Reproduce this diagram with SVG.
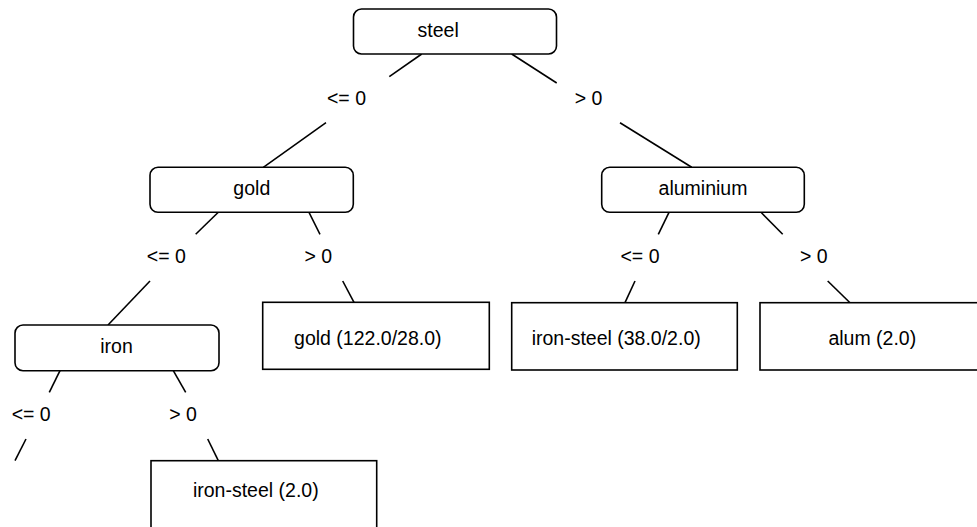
<svg xmlns="http://www.w3.org/2000/svg" width="977" height="527" viewBox="0 0 977 527">
<style>
.n{fill:#fff;stroke:#000;stroke-width:1.6}
.e{stroke:#000;stroke-width:1.6;fill:none}
text{font-family:"Liberation Sans",Arial,sans-serif;font-size:19.5px;fill:#000;text-anchor:middle}
</style>
<rect width="977" height="527" fill="#fff"/>
<g id="connectors">
<line class="e" x1="421.7" y1="54" x2="389.3" y2="76.7"/>
<line class="e" x1="326" y1="122.7" x2="263.3" y2="167.3"/>
<text x="346.5" y="105">&lt;= 0</text>
<line class="e" x1="511.7" y1="54" x2="556.7" y2="83"/>
<line class="e" x1="620" y1="122.7" x2="691.7" y2="167.3"/>
<text x="588.5" y="105">&gt; 0</text>
<line class="e" x1="218.3" y1="212.3" x2="195.7" y2="234.3"/>
<line class="e" x1="150" y1="281" x2="108" y2="325"/>
<text x="166.3" y="263.3">&lt;= 0</text>
<line class="e" x1="309" y1="212.3" x2="320" y2="234.3"/>
<line class="e" x1="342.7" y1="281" x2="354" y2="302.3"/>
<text x="318.3" y="263.3">&gt; 0</text>
<line class="e" x1="669" y1="212.3" x2="658.3" y2="234.3"/>
<line class="e" x1="635" y1="281" x2="625" y2="302.7"/>
<text x="640" y="263.3">&lt;= 0</text>
<line class="e" x1="761" y1="212.3" x2="782.7" y2="234.3"/>
<line class="e" x1="827.7" y1="281" x2="850" y2="302.7"/>
<text x="813.8" y="263.3">&gt; 0</text>
<line class="e" x1="60" y1="370.7" x2="49.3" y2="392.3"/>
<line class="e" x1="26" y1="439" x2="15" y2="460.7"/>
<text x="31.2" y="420.7">&lt;= 0</text>
<line class="e" x1="173.3" y1="370.7" x2="185.7" y2="392.3"/>
<line class="e" x1="207.7" y1="439" x2="218.3" y2="460.7"/>
<text x="183" y="420.7">&gt; 0</text>
</g>
<g id="steel"><rect class="n" x="353.5" y="9" width="203" height="45" rx="8"/><text x="438.2" y="37">steel</text></g>
<g id="gold"><rect class="n" x="150" y="167.3" width="203.3" height="45" rx="8"/><text x="251.8" y="195">gold</text></g>
<g id="aluminium"><rect class="n" x="601.7" y="167.3" width="202.6" height="45" rx="8"/><text x="703" y="195">aluminium</text></g>
<g id="iron"><rect class="n" x="15" y="325" width="204" height="45.7" rx="8"/><text x="116.5" y="353.3">iron</text></g>
<g id="leaf-gold"><rect class="n" x="262.7" y="302.3" width="226.6" height="67"/><text x="367.8" y="344.5">gold (122.0/28.0)</text></g>
<g id="leaf-iron-steel-38"><rect class="n" x="511.7" y="302.7" width="225.6" height="67.3"/><text x="616.2" y="344.5">iron-steel (38.0/2.0)</text></g>
<g id="leaf-alum"><rect class="n" x="760" y="302.7" width="226" height="67.3"/><text x="872.3" y="344.5">alum (2.0)</text></g>
<g id="leaf-iron-steel-2"><rect class="n" x="151" y="460.7" width="225.7" height="70"/><text x="255.8" y="496.5">iron-steel (2.0)</text></g>
</svg>
